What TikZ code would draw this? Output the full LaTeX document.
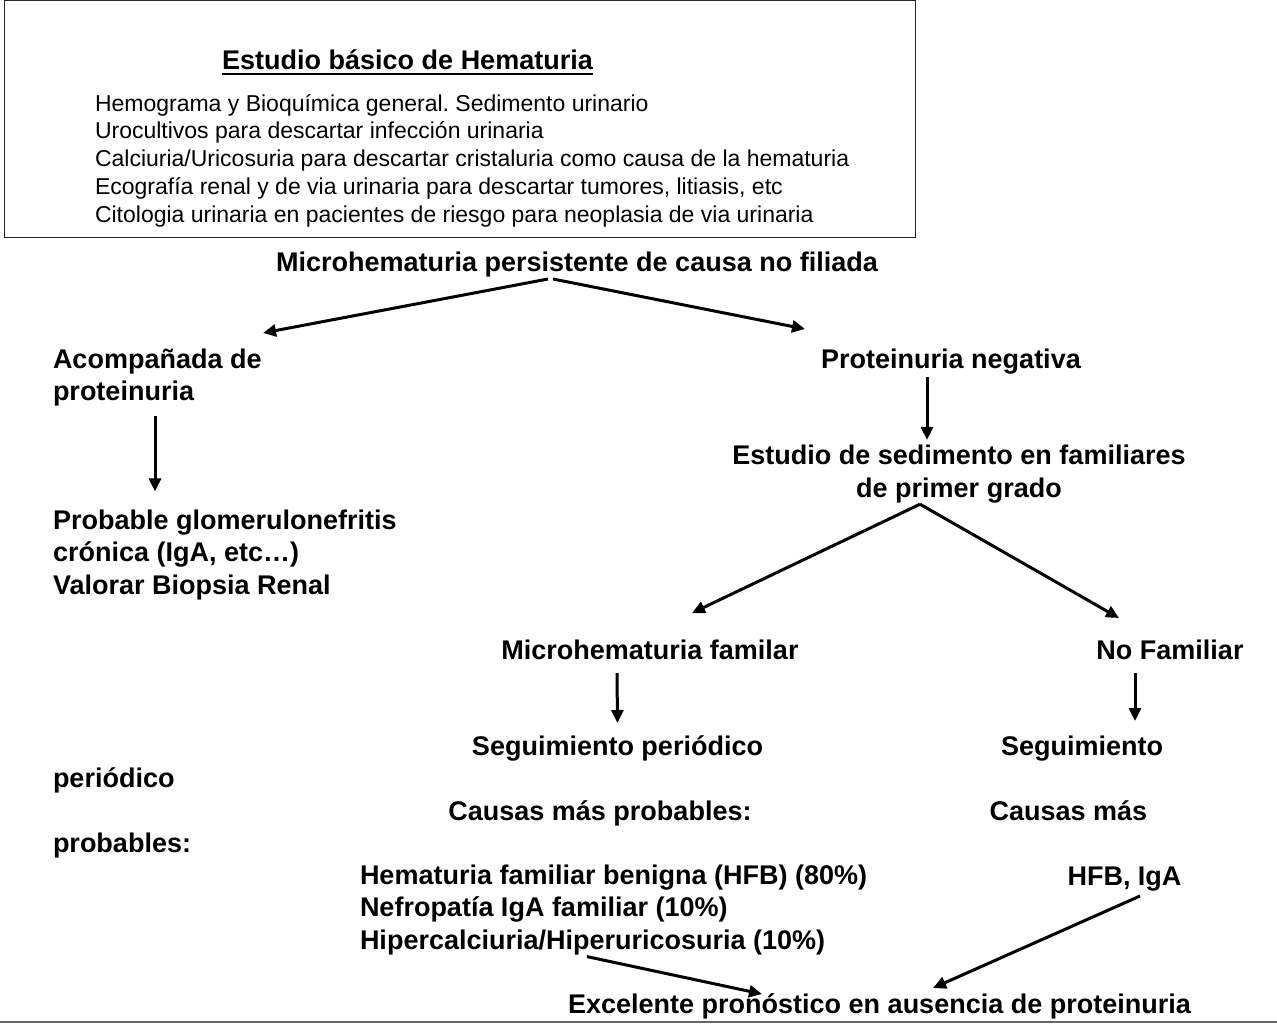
\documentclass[tikz,border=0pt]{standalone}
\usepackage{fontspec}
\setmainfont{Liberation Sans}
\usetikzlibrary{positioning, arrows.meta}
\frenchspacing

\begin{document}
\begin{tikzpicture}[x=1pt, y=-1pt,
        every node/.style={inner sep=0pt, outer sep=0pt},
        lbl/.style={font=\fontsize{27}{32.5}\selectfont\bfseries, align=left},
        boxtxt/.style={font=\fontsize{23}{27.75}\selectfont, align=left},
        arr/.style={-{Triangle[length=13pt, width=12pt]}, line width=3pt}]
    \useasboundingbox (0,0) rectangle (1277,1025);
    % Basic study box
    \node[draw, line width=1.3pt, black!85, minimum width=911pt, minimum height=237pt, anchor=north west] (basicbox) at (4.6,0.6) {};
    \node[lbl, anchor=base] (basictitle) at (407.5,70) {Estudio básico de Hematuria};
    \draw[line width=2.8pt] ([yshift=-4pt]basictitle.base west) -- ([yshift=-4pt]basictitle.base east);
    \node[boxtxt, anchor=base west] (basiclist) at (95,222) {Hemograma y Bioquímica general. Sedimento urinario\\Urocultivos para descartar infección urinaria\\Calciuria/Uricosuria para descartar cristaluria como causa de la hematuria\\Ecografía renal y de via urinaria para descartar tumores, litiasis, etc\\Citologia urinaria en pacientes de riesgo para neoplasia de via urinaria};
    % Flow nodes (multi-line nodes sit on their last line)
    \node[lbl, anchor=base] (micro) at (577,271) {Microhematuria persistente de causa no filiada};
    \node[lbl, anchor=base west] (acomp) at (53,400.5) {Acompañada de\\proteinuria};
    \node[lbl, anchor=base] (protneg) at (951,368) {Proteinuria negativa};
    \node[lbl, anchor=base west] (glom) at (53,594) {Probable glomerulonefritis\\crónica (IgA, etc…)\\Valorar Biopsia Renal};
    \node[lbl, align=center, anchor=base] (sedim) at (959,497) {Estudio de sedimento en familiares\\de primer grado};
    \node[lbl, anchor=base] (famil) at (650,659) {Microhematuria familar};
    \node[lbl, anchor=base] (nofam) at (1170,659) {No Familiar};
    \node[lbl, anchor=base] (segper) at (617.5,755) {Seguimiento periódico};
    \node[lbl, anchor=base] (seg) at (1082,755) {Seguimiento};
    \node[lbl, anchor=base west] (perio) at (53,787) {periódico};
    \node[lbl, anchor=base west] (probab) at (53,852) {probables:};
    \node[lbl, anchor=base] (causas) at (600,820) {Causas más probables:};
    \node[lbl, anchor=base] (causasnf) at (1068.5,820) {Causas más};
    \node[lbl, anchor=base west] (hema) at (360,949) {Hematuria familiar benigna (HFB) (80\%)\\Nefropatía IgA familiar (10\%)\\Hipercalciuria/Hiperuricosuria (10\%)};
    \node[lbl, anchor=base] (hfb) at (1124.5,885) {HFB, IgA};
    \node[lbl, anchor=base] (excel) at (879.5,1013) {Excelente pronóstico en ausencia de proteinuria};
    % Arrows
    \draw[arr] ([xshift=-29pt,yshift=-8pt]micro.base) -- ([xshift=1.5pt,yshift=15.5pt]acomp.north east);
    \draw[arr] ([xshift=-24pt,yshift=-8pt]micro.base) -- ([xshift=-146pt,yshift=39pt]protneg.base);
    \draw[arr] ([xshift=102pt,yshift=-10pt]acomp.south west) -- ([xshift=102pt,yshift=18pt]glom.north west);
    \draw[arr] ([xshift=-24pt,yshift=-9pt]protneg.base) -- ([xshift=-32pt,yshift=5pt]sedim.north);
    \draw[arr] ([xshift=-39pt,yshift=-1.5pt]sedim.south) -- ([xshift=42pt,yshift=46pt]famil.base);
    \draw[arr] ([xshift=-39pt,yshift=-1.5pt]sedim.south) -- ([xshift=-51pt,yshift=41pt]nofam.base);
    \draw[arr] ([xshift=-33pt,yshift=-14pt]famil.base) -- ([yshift=32pt]segper.base);
    \draw[arr] ([xshift=-35pt,yshift=-14pt]nofam.base) -- ([xshift=53pt,yshift=34pt]seg.base);
    \draw[arr] ([xshift=227pt,yshift=-2pt]hema.south west) -- ([xshift=-117.5pt,yshift=19pt]excel.base);
    \draw[arr] ([xshift=15.5pt,yshift=-11pt]hfb.base) -- ([xshift=53.5pt,yshift=25pt]excel.base);
    % Page rule
    \draw[line width=2.2pt, black!60] (0,1022) -- (1277,1022);
\end{tikzpicture}
\end{document}
